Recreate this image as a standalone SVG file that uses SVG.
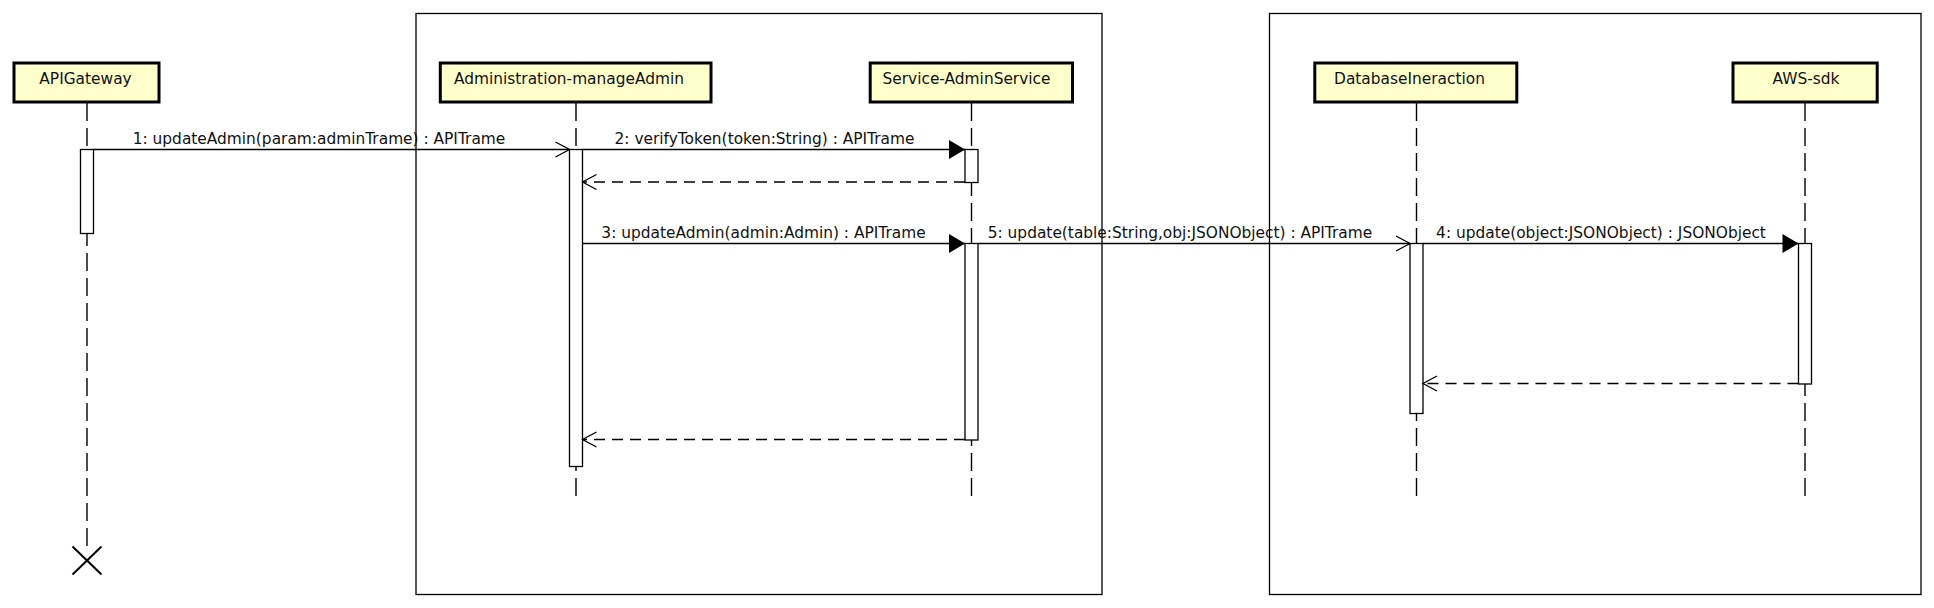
<svg xmlns="http://www.w3.org/2000/svg" width="1934" height="608" viewBox="0 0 1934 608">
<style>
text{font-family:"DejaVu Sans","Liberation Sans",sans-serif;font-size:15.4px;fill:#111}
.frame{fill:none;stroke:#000;stroke-width:1.3}
.actor{fill:#ffffcc;stroke:#000;stroke-width:3}
.life{stroke:#000;stroke-width:1.4;stroke-dasharray:18,7;fill:none}
.act{fill:#fff;stroke:#000;stroke-width:1.3}
.msg{stroke:#000;stroke-width:1.3;fill:none}
.ret{stroke:#000;stroke-width:1.3;fill:none;stroke-dasharray:11,7}
.sync{marker-end:url(#filled)}
.open{marker-end:url(#open)}
</style>
<defs>
<marker id="open" markerUnits="userSpaceOnUse" markerWidth="20" markerHeight="20" refX="0" refY="0" orient="auto" overflow="visible"><path d="M-14,-7.5 L0,0 L-14,7.5" fill="none" stroke="#000" stroke-width="1.3"/></marker>
<marker id="filled" markerUnits="userSpaceOnUse" markerWidth="20" markerHeight="20" refX="0" refY="0" orient="auto" overflow="visible"><path d="M0,0 L-16,-9.5 L-16,9.5 Z" fill="#000" stroke="none"/></marker>
</defs>
<rect width="1934" height="608" fill="#fff"/>
<g id="frames">
<rect class="frame" x="416" y="13.5" width="686" height="581"/>
<rect class="frame" x="1269.5" y="13.5" width="651.5" height="581"/>
</g>
<g id="lifelines">
<line class="life" x1="87" y1="103" x2="87" y2="546"/>
<line class="life" x1="576" y1="103" x2="576" y2="502"/>
<line class="life" x1="971.5" y1="103" x2="971.5" y2="502"/>
<line class="life" x1="1416.5" y1="103" x2="1416.5" y2="502"/>
<line class="life" x1="1805" y1="103" x2="1805" y2="502"/>
</g>
<g id="APIGateway">
<rect class="actor" x="14" y="63" width="145" height="39"/>
<text x="85.5" y="84" text-anchor="middle">APIGateway</text>
<rect class="act" x="80.5" y="149.5" width="13" height="84"/>
<line x1="72.5" y1="546.5" x2="101.5" y2="574.5" stroke="#000" stroke-width="2"/>
<line x1="101.5" y1="546.5" x2="72.5" y2="574.5" stroke="#000" stroke-width="2"/>
</g>
<g id="Administration-manageAdmin">
<rect class="actor" x="440.3" y="63" width="270.7" height="39"/>
<text x="569" y="84" text-anchor="middle">Administration-manageAdmin</text>
<rect class="act" x="569.5" y="149.5" width="13" height="317"/>
</g>
<g id="Service-AdminService">
<rect class="actor" x="870.2" y="63" width="202.3" height="39"/>
<text x="966.5" y="84" text-anchor="middle">Service-AdminService</text>
<rect class="act" x="965" y="149.5" width="13" height="33"/>
<rect class="act" x="965" y="243.5" width="13" height="196.5"/>
</g>
<g id="DatabaseIneraction">
<rect class="actor" x="1314.8" y="63" width="202" height="39"/>
<text x="1409.5" y="84" text-anchor="middle">DatabaseIneraction</text>
<rect class="act" x="1410" y="243.5" width="13" height="170"/>
</g>
<g id="AWS-sdk">
<rect class="actor" x="1733" y="63" width="144.2" height="39"/>
<text x="1806" y="84" text-anchor="middle">AWS-sdk</text>
<rect class="act" x="1798.5" y="243.5" width="13" height="140.5"/>
</g>
<g id="connectors">
<line class="msg open" x1="93.5" y1="149.5" x2="569.5" y2="149.5"/>
<text x="319" y="143.5" text-anchor="middle">1: updateAdmin(param:adminTrame) : APITrame</text>
<line class="msg sync" x1="582.5" y1="149.5" x2="965" y2="149.5"/>
<text x="764.5" y="143.5" text-anchor="middle">2: verifyToken(token:String) : APITrame</text>
<line class="ret open" x1="965" y1="182" x2="582.5" y2="182"/>
<line class="msg sync" x1="582.5" y1="243.5" x2="965" y2="243.5"/>
<text x="763.5" y="237.5" text-anchor="middle">3: updateAdmin(admin:Admin) : APITrame</text>
<line class="msg open" x1="978" y1="243.5" x2="1410" y2="243.5"/>
<text x="1180" y="237.5" text-anchor="middle">5: update(table:String,obj:JSONObject) : APITrame</text>
<line class="msg sync" x1="1423" y1="243.5" x2="1798.5" y2="243.5"/>
<text x="1601" y="237.5" text-anchor="middle">4: update(object:JSONObject) : JSONObject</text>
<line class="ret open" x1="1798.5" y1="383.5" x2="1423" y2="383.5"/>
<line class="ret open" x1="965" y1="439.5" x2="582.5" y2="439.5"/>
</g>
</svg>
